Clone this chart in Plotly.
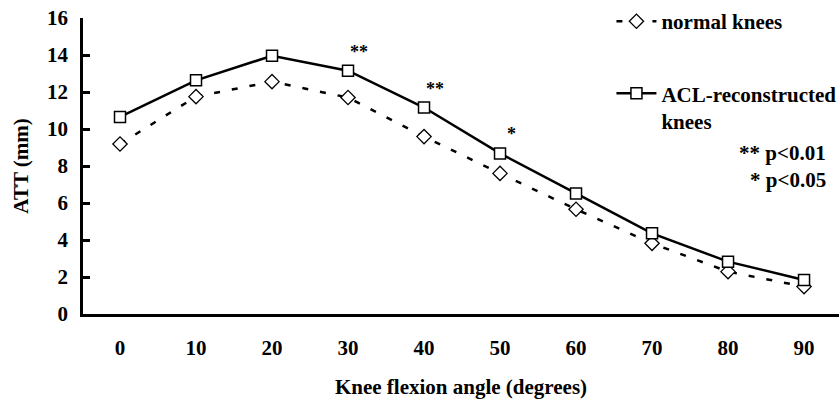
import plotly.graph_objects as go

angles = [0, 10, 20, 30, 40, 50, 60, 70, 80, 90]
normal_knees = [9.19, 11.75, 12.56, 11.70, 9.59, 7.60, 5.66, 3.82, 2.29, 1.48]
acl_knees = [10.65, 12.63, 13.96, 13.15, 11.16, 8.68, 6.52, 4.36, 2.83, 1.84]
sig_angles = [30, 40, 50]
sig_marks = ["**", "**", "*"]
y_ticks = [0, 2, 4, 6, 8, 10, 12, 14, 16]

FONT = "Liberation Serif"
def f(size):
    return dict(family=FONT, size=size, color="black", weight="bold")

fig = go.Figure()
fig.add_trace(go.Scatter(
    x=angles, y=normal_knees, mode="lines+markers", name="normal knees",
    line=dict(color="black", width=2.5, dash="6px,12px"),
    marker=dict(symbol="diamond", size=11, color="white", line=dict(color="black", width=1.3)),
    legend="legend", showlegend=True,
))
fig.add_trace(go.Scatter(
    x=angles, y=acl_knees, mode="lines+markers", name="ACL-reconstructed<br>knees",
    line=dict(color="black", width=2.5),
    marker=dict(symbol="square", size=11, color="white", line=dict(color="black", width=1.5)),
    legend="legend2", showlegend=True,
))

for a, m in zip(sig_angles, sig_marks):
    yv = acl_knees[angles.index(a)]
    fig.add_annotation(x=a, y=yv, text=m, showarrow=False, xshift=11, yshift=19, font=f(18))

fig.add_annotation(xref="paper", yref="paper", x=0.986, y=0.544, xanchor="right", yanchor="middle",
                   text="** p<0.01", showarrow=False, font=f(21))
fig.add_annotation(xref="paper", yref="paper", x=0.986, y=0.453, xanchor="right", yanchor="middle",
                   text="* p<0.05", showarrow=False, font=f(21))

fig.update_layout(
    width=839, height=399,
    margin=dict(l=83, r=0, t=18, b=85, autoexpand=False),
    paper_bgcolor="white", plot_bgcolor="white",
    font=f(21),
    showlegend=True,
    legend=dict(x=0.699, y=1.057, xanchor="left", yanchor="top", font=f(21),
                bgcolor="rgba(0,0,0,0)", itemwidth=40),
    legend2=dict(x=0.699, y=0.8135, xanchor="left", yanchor="top", font=f(21),
                 bgcolor="rgba(0,0,0,0)", valign="top", itemwidth=40),
    xaxis=dict(
        range=[-4.87, 94.6], tickvals=angles, ticks="", showgrid=False, zeroline=False,
        showline=True, linecolor="black", linewidth=2.5, ticklabelstandoff=13, automargin=False,
        tickfont=f(21),
        title=dict(text="Knee flexion angle (degrees)", standoff=21, font=f(21)),
    ),
    yaxis=dict(
        range=[0, 16], tickvals=y_ticks, ticks="inside", ticklen=7, tickwidth=2.5, tickcolor="black",
        showgrid=False, zeroline=False, showline=True, linecolor="black", linewidth=2.5,
        ticklabelstandoff=8, automargin=False,
        tickfont=f(21),
        title=dict(text="ATT (mm)", standoff=13, font=f(21)),
    ),
)

fig.write_html("out.html", config={"displayModeBar": False},
               post_script="document.body.style.margin='0';")
